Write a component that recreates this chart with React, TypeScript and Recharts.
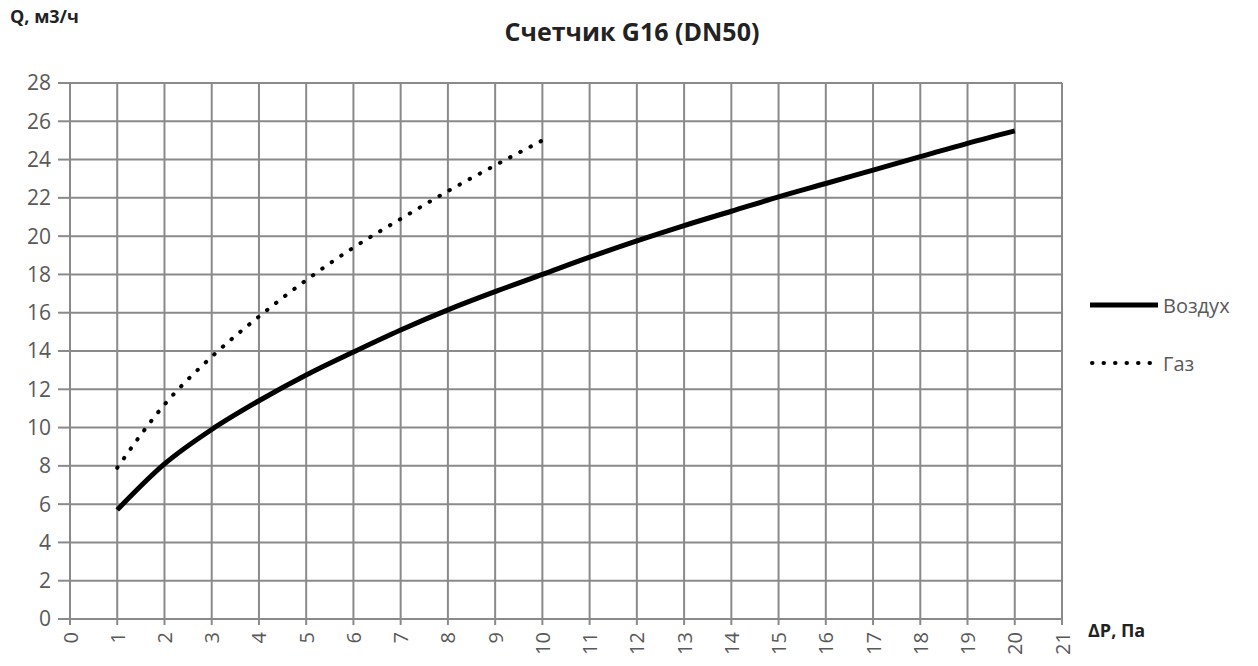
import { LineChart, Line, XAxis, YAxis, CartesianGrid } from "recharts";

const pressure = [1, 2, 3, 4, 5, 6, 7, 8, 9, 10, 11, 12, 13, 14, 15, 16, 17, 18, 19, 20];
const airFlow = [5.7, 8.1, 9.9, 11.4, 12.75, 13.95, 15.1, 16.15, 17.1, 18.0, 18.9, 19.75, 20.55, 21.3, 22.05, 22.75, 23.45, 24.15, 24.85, 25.5];
const gasFlow = [7.9, 11.2, 13.7, 15.8, 17.7, 19.4, 20.9, 22.35, 23.7, 25.0];
const xTicks = [0, 1, 2, 3, 4, 5, 6, 7, 8, 9, 10, 11, 12, 13, 14, 15, 16, 17, 18, 19, 20, 21];
const yTicks = [0, 2, 4, 6, 8, 10, 12, 14, 16, 18, 20, 22, 24, 26, 28];

const data = pressure.map((p, i) => ({ p, air: airFlow[i], gas: gasFlow[i] }));

const font = "'Open Sans', sans-serif";
const grey = "#595959";
const gridColor = "#8a8a8a";

function XTick(props: any) {
  const { x, y, payload } = props;
  return (
    <text x={x} y={y + 5} transform={`rotate(-90 ${x} ${y + 5})`} textAnchor="end" dominantBaseline="central"
      fontSize={20} fill={grey} fontFamily={font}>
      {payload.value}
    </text>
  );
}

export default function App() {
  return (
    <div style={{ position: "absolute", left: 0, top: 0, width: 1258, height: 666, background: "#fff" }}>
      <div style={{ position: "absolute", left: 10, top: 4, fontFamily: font, fontWeight: 700, fontSize: 18, color: "#222" }}>
        Q, м3/ч
      </div>
      <div style={{ position: "absolute", left: 0, width: 1264, top: 14, textAlign: "center", fontFamily: font, fontWeight: 700, fontSize: 25, color: "#222" }}>
        Счетчик G16 (DN50)
      </div>
      <div style={{ position: "absolute", left: 1088, top: 618, fontFamily: font, fontWeight: 700, fontSize: 18, color: "#222" }}>
        ΔP, Па
      </div>

      {/* legend */}
      <div style={{ position: "absolute", left: 1088, top: 292, fontFamily: font, fontSize: 20, color: grey }}>
        <div style={{ display: "flex", alignItems: "center", height: 26, marginBottom: 32 }}>
          <svg width={72} height={10}><line x1={2} y1={5} x2={70} y2={5} stroke="#000" strokeWidth={5} /></svg>
          <span style={{ marginLeft: 3 }}>Воздух</span>
        </div>
        <div style={{ display: "flex", alignItems: "center", height: 26 }}>
          <svg width={72} height={10}>
            <line x1={4} y1={5} x2={70} y2={5} stroke="#000" strokeWidth={4} strokeDasharray="0.5 11" strokeLinecap="round" />
          </svg>
          <span style={{ marginLeft: 3 }}>Газ</span>
        </div>
      </div>

      <LineChart width={1258} height={666} data={data} margin={{ top: 83, right: 196, bottom: 0, left: 0 }}>
        <CartesianGrid stroke={gridColor} strokeWidth={2} horizontalValues={yTicks} verticalValues={xTicks} />
        <XAxis dataKey="p" type="number" domain={[0, 21]} ticks={xTicks} interval={0} height={47}
          axisLine={{ stroke: gridColor, strokeWidth: 2 }} tickLine={{ stroke: gridColor, strokeWidth: 2 }} tickSize={6}
          tick={<XTick />} />
        <YAxis type="number" domain={[0, 28]} ticks={yTicks} interval={0} width={70}
          axisLine={{ stroke: gridColor, strokeWidth: 2 }} tickLine={{ stroke: gridColor, strokeWidth: 2 }} tickSize={12}
          tickMargin={7} tick={{ fontSize: 21, fill: grey, fontFamily: font }} />
        <Line type="monotone" dataKey="air" stroke="#000" strokeWidth={5} dot={false} isAnimationActive={false} />
        <Line type="monotone" dataKey="gas" stroke="#000" strokeWidth={4} strokeDasharray="0.5 11" strokeLinecap="round"
          dot={false} isAnimationActive={false} connectNulls={false} />
      </LineChart>
    </div>
  );
}
